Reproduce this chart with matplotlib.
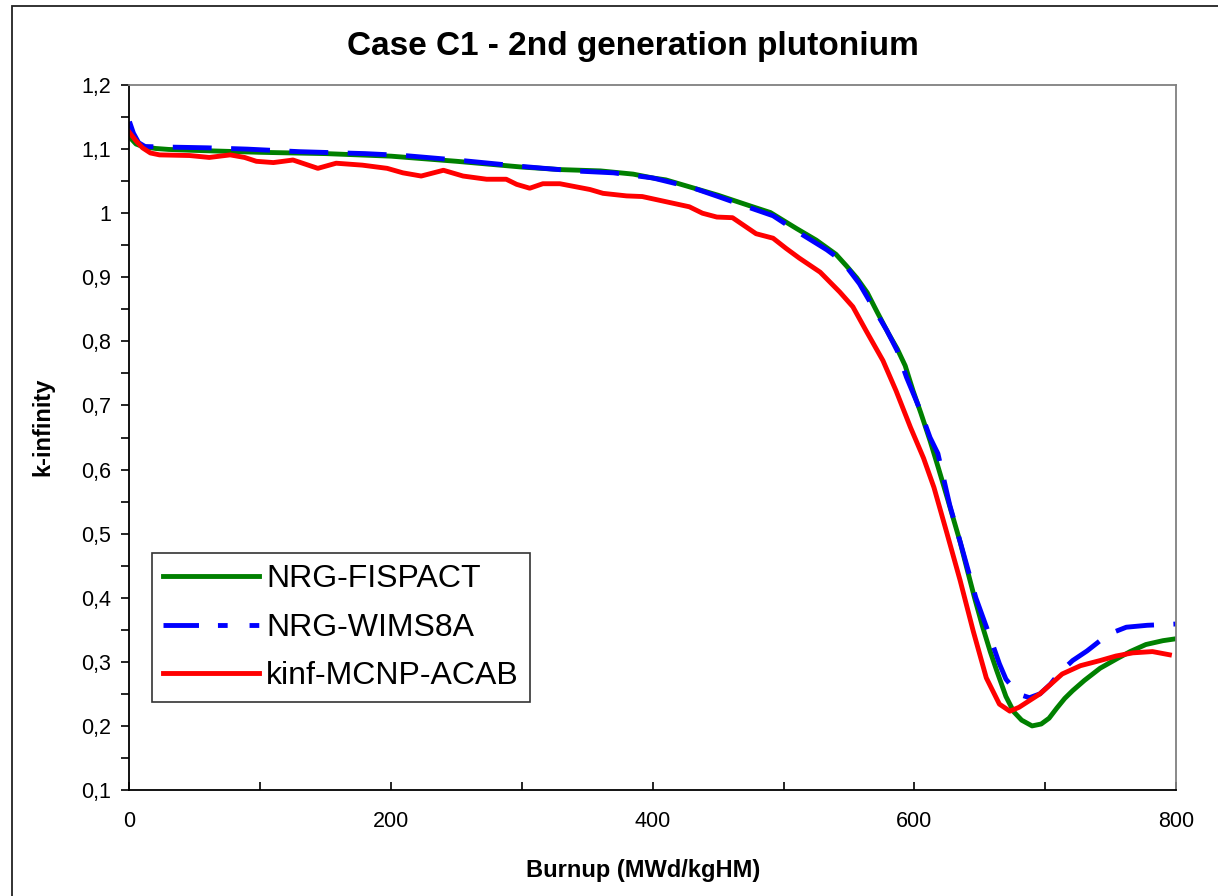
import matplotlib
matplotlib.use('Agg')
import matplotlib.pyplot as plt
from matplotlib.lines import Line2D
from matplotlib.patches import Rectangle
from matplotlib.ticker import MultipleLocator, FuncFormatter

plt.rcParams['font.family'] = 'Liberation Sans'

# NRG-FISPACT
x_fispact = [0, 5, 10, 20, 30, 50, 100, 150, 200, 250, 300, 330, 360, 385, 400, 410, 430, 450,
             475, 490, 510, 525, 540, 548, 556, 564, 571, 580, 587, 593, 599, 605, 612, 618, 625,
             630, 635, 640, 646, 652, 658, 663, 670, 676, 682, 690, 697, 703, 709, 715, 721, 730,
             742, 755, 765, 777, 790, 800]
k_fispact = [1.119, 1.108, 1.104, 1.101, 1.0995, 1.098, 1.095, 1.093, 1.089, 1.081, 1.072, 1.068,
             1.066, 1.061, 1.055, 1.052, 1.040, 1.028, 1.011, 1.001, 0.976, 0.958, 0.936, 0.918,
             0.899, 0.876, 0.848, 0.813, 0.788, 0.762, 0.723, 0.688, 0.645, 0.605, 0.557, 0.522,
             0.487, 0.447, 0.400, 0.356, 0.316, 0.286, 0.246, 0.222, 0.209, 0.200, 0.203, 0.212,
             0.228, 0.243, 0.255, 0.271, 0.290, 0.305, 0.316, 0.327, 0.333, 0.336]

# NRG-WIMS8A
x_wims = [0, 3, 7, 12, 35, 60, 90, 130, 180, 210, 250, 300, 340, 370, 400, 430, 450, 475, 492,
          510, 533, 545, 558, 568, 579, 587, 594, 604, 612, 618, 627, 637, 647, 658, 665, 670,
          676, 682, 688, 696, 704, 711, 721, 732, 742, 752, 762, 778, 800]
k_wims = [1.143, 1.125, 1.110, 1.104, 1.103, 1.102, 1.100, 1.096, 1.093, 1.090, 1.083, 1.073,
          1.066, 1.063, 1.055, 1.040, 1.026, 1.008, 0.996, 0.972, 0.943, 0.925, 0.890, 0.855,
          0.817, 0.785, 0.744, 0.695, 0.650, 0.625, 0.545, 0.473, 0.400, 0.338, 0.297, 0.273,
          0.258, 0.248, 0.244, 0.250, 0.265, 0.283, 0.302, 0.317, 0.333, 0.346, 0.354, 0.357, 0.359]

# kinf-MCNP-ACAB
x_mcnp = [0, 5, 10, 16, 23, 46, 61, 77, 88, 97, 110, 125, 144, 158, 178, 197, 209, 223, 240, 255,
          273, 288, 296, 306, 316, 329, 352, 362, 380, 392, 410, 428, 438, 449, 461, 479, 492, 502,
          512, 528, 543, 553, 563, 576, 586, 597, 607, 615, 625, 635, 645, 655, 665, 673, 680, 696,
          713, 727, 742, 754, 767, 782, 795]
k_mcnp = [1.126, 1.113, 1.102, 1.094, 1.091, 1.090, 1.087, 1.091, 1.087, 1.081, 1.079, 1.083,
          1.070, 1.078, 1.075, 1.070, 1.063, 1.058, 1.067, 1.058, 1.053, 1.053, 1.045, 1.039,
          1.046, 1.046, 1.037, 1.031, 1.027, 1.026, 1.018, 1.010, 1.000, 0.994, 0.993, 0.968,
          0.961, 0.945, 0.930, 0.908, 0.877, 0.854, 0.817, 0.770, 0.723, 0.666, 0.618, 0.572,
          0.500, 0.427, 0.348, 0.275, 0.234, 0.223, 0.229, 0.250, 0.281, 0.294, 0.302, 0.309,
          0.314, 0.316, 0.311]

labels = ['NRG-FISPACT', 'NRG-WIMS8A', 'kinf-MCNP-ACAB']

fig = plt.figure(figsize=(12.18, 8.96), dpi=100)
ax = fig.add_axes([0.1063, 0.1183, 0.8592, 0.7868])

lw = 3.5
l1, = ax.plot(x_fispact, k_fispact, color='#008000', lw=lw)
ax.plot(x_wims, k_wims, color='#0000ff', lw=lw, dashes=(8, 4))
l3, = ax.plot(x_mcnp, k_mcnp, color='#ff0000', lw=lw)

ax.set_xlim(0, 800)
ax.set_ylim(0.1, 1.2)
ax.xaxis.set_major_locator(MultipleLocator(200))
ax.xaxis.set_minor_locator(MultipleLocator(100))
ax.yaxis.set_major_locator(MultipleLocator(0.1))
ax.yaxis.set_minor_locator(MultipleLocator(0.05))
ax.yaxis.set_major_formatter(FuncFormatter(lambda v, p: ('%g' % round(v, 2)).replace('.', ',')))

ax.tick_params(axis='x', which='both', direction='in', length=6, width=1.2, labelsize=15.5, pad=15)
ax.tick_params(axis='y', which='both', direction='out', length=6, width=1.2, labelsize=15.5, pad=7)

for s in ['left', 'bottom']:
    ax.spines[s].set_color('black')
    ax.spines[s].set_linewidth(1.3)
for s in ['top', 'right']:
    ax.spines[s].set_color('#808080')
    ax.spines[s].set_linewidth(1.3)

fig.text(633 / 1218, 1 - 47 / 896, 'Case C1 - 2nd generation plutonium',
         ha='center', va='center', fontsize=24, fontweight='bold')
fig.text(643 / 1218, 1 - 870 / 896, 'Burnup (MWd/kgHM)',
         ha='center', va='center', fontsize=17, fontweight='bold')
fig.text(43 / 1218, 1 - 427 / 896, 'k-infinity', rotation=90,
         ha='center', va='center', fontsize=17, fontweight='bold')

h2 = Line2D([], [], color='#0000ff', lw=lw, dashes=(7.3, 3.9, 2, 4.5, 2, 4.5))
leg = ax.legend([l1, h2, l3], labels, loc='upper left',
                bbox_to_anchor=((152 - 129.5) / 1046.5, (790 - 553) / 705),
                borderaxespad=0, fontsize=23, handlelength=3.0, handletextpad=0.22,
                labelspacing=0.58, borderpad=0.35, fancybox=False, framealpha=1)
leg.get_frame().set_edgecolor('#333333')
leg.get_frame().set_linewidth(1.2)

fig.patches.append(Rectangle((12 / 1218, -0.1), 1.2, 1.1 - 6 / 896,
                             transform=fig.transFigure, fill=False, edgecolor='#222222',
                             lw=1.3, clip_on=False))

fig.savefig('out.png', dpi=100)
